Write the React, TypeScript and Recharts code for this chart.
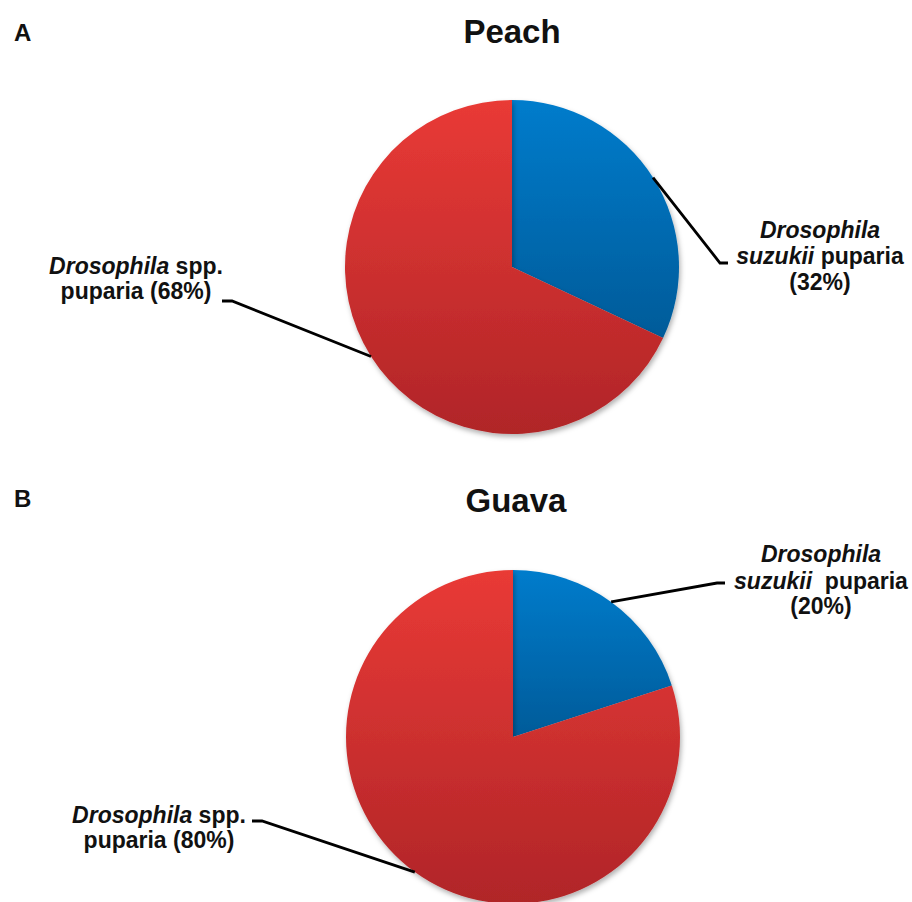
import { Cell, Pie, PieChart } from "recharts";

// slice order: D. suzukii first (starts at 12 o'clock, clockwise), then other Drosophila
const sliceKeys = ["suzukii", "spp"];
const peachValues = [32, 68];
const guavaValues = [20, 80];
const panelLetters = ["A", "B"];
const panelTitles = ["Peach", "Guava"];

const RADIAN = Math.PI / 180;
const FONT = "'Liberation Sans', Arial, sans-serif";

type LabelLayout = {
  elbow: [number, number];
  tail: [number, number];
  textX: number;
  lines: number[];
};

// leader/label placement relative to each pie centre
const peachLayout: LabelLayout[] = [
  { elbow: [208, -4], tail: [216, -4], textX: 308, lines: [-29, -3, 23] },
  { elbow: [-280, 34], tail: [-290, 34], textX: -376, lines: [7, 32] },
];
const guavaLayout: LabelLayout[] = [
  { elbow: [204, -154], tail: [212, -154], textX: 308, lines: [-175, -148, -123] },
  { elbow: [-251, 84], tail: [-261, 84], textX: -354, lines: [86, 111] },
];

function makeLabel(layout: LabelLayout[], wideGap: boolean) {
  return (props: any) => {
    const { cx, cy, midAngle, outerRadius, index, value } = props;
    const cfg = layout[index];
    const sx = cx + outerRadius * Math.cos(-midAngle * RADIAN);
    const sy = cy + outerRadius * Math.sin(-midAngle * RADIAN);
    const ex = cx + cfg.elbow[0];
    const ey = cy + cfg.elbow[1];
    const tx = cx + cfg.tail[0];
    const ty = cy + cfg.tail[1];
    const x = cx + cfg.textX;
    const textProps = {
      x,
      textAnchor: "middle" as const,
      fontFamily: FONT,
      fontWeight: 700,
      fontSize: 23,
      fill: "#111",
    };
    return (
      <g key={`lbl-${index}`}>
        <polyline
          points={`${sx},${sy} ${ex},${ey} ${tx},${ty}`}
          fill="none"
          stroke="#000"
          strokeWidth={2.8}
        />
        {sliceKeys[index] === "suzukii" ? (
          <>
            <text {...textProps} y={cy + cfg.lines[0]}>
              <tspan fontStyle="italic">Drosophila</tspan>
            </text>
            <text {...textProps} y={cy + cfg.lines[1]} xmlSpace="preserve">
              <tspan fontStyle="italic">suzukii</tspan>
              <tspan>{wideGap ? "  puparia" : " puparia"}</tspan>
            </text>
            <text {...textProps} y={cy + cfg.lines[2]}>
              ({value}%)
            </text>
          </>
        ) : (
          <>
            <text {...textProps} y={cy + cfg.lines[0]}>
              <tspan fontStyle="italic">Drosophila</tspan>
              <tspan> spp.</tspan>
            </text>
            <text {...textProps} y={cy + cfg.lines[1]}>
              puparia ({value}%)
            </text>
          </>
        )}
      </g>
    );
  };
}

const peachData = sliceKeys.map((key, i) => ({ key, value: peachValues[i] }));
const guavaData = sliceKeys.map((key, i) => ({ key, value: guavaValues[i] }));
const fills = ["url(#blueGrad)", "url(#redGrad)"];

export default function App() {
  return (
    <div style={{ position: "absolute", left: 0, top: 0, width: 912, height: 902, background: "#fff" }}>
      <PieChart width={912} height={902} margin={{ top: 0, right: 0, bottom: 0, left: 0 }}>
        <defs>
          <linearGradient id="redGrad" x1="0" y1="0" x2="0" y2="1">
            <stop offset="0%" stopColor="#e93a36" />
            <stop offset="100%" stopColor="#b02528" />
          </linearGradient>
          <linearGradient id="blueGrad" x1="0" y1="0" x2="0" y2="1">
            <stop offset="0%" stopColor="#007ccc" />
            <stop offset="100%" stopColor="#005b99" />
          </linearGradient>
          <filter id="pieShadow" x="-10%" y="-10%" width="125%" height="125%">
            <feDropShadow dx="1.5" dy="3" stdDeviation="2.5" floodColor="#000" floodOpacity="0.3" />
          </filter>
        </defs>

        <text x={14} y={41} fontFamily={FONT} fontWeight={700} fontSize={24} fill="#111">
          {panelLetters[0]}
        </text>
        <text x={512} y={43} textAnchor="middle" fontFamily={FONT} fontWeight={700} fontSize={33} fill="#111">
          {panelTitles[0]}
        </text>
        <text x={14} y={507} fontFamily={FONT} fontWeight={700} fontSize={24} fill="#111">
          {panelLetters[1]}
        </text>
        <text x={516} y={512} textAnchor="middle" fontFamily={FONT} fontWeight={700} fontSize={33} fill="#111">
          {panelTitles[1]}
        </text>

        <Pie
          data={peachData}
          dataKey="value"
          nameKey="key"
          cx={512}
          cy={267}
          outerRadius={167}
          startAngle={90}
          endAngle={-270}
          stroke="none"
          labelLine={false}
          label={makeLabel(peachLayout, false)}
          isAnimationActive={false}
        >
          {peachData.map((d, i) => (
            <Cell key={d.key} fill={fills[i]} filter="url(#pieShadow)" />
          ))}
        </Pie>
        <Pie
          data={guavaData}
          dataKey="value"
          nameKey="key"
          cx={513}
          cy={737}
          outerRadius={167}
          startAngle={90}
          endAngle={-270}
          stroke="none"
          labelLine={false}
          label={makeLabel(guavaLayout, true)}
          isAnimationActive={false}
        >
          {guavaData.map((d, i) => (
            <Cell key={d.key} fill={fills[i]} filter="url(#pieShadow)" />
          ))}
        </Pie>
      </PieChart>
    </div>
  );
}
